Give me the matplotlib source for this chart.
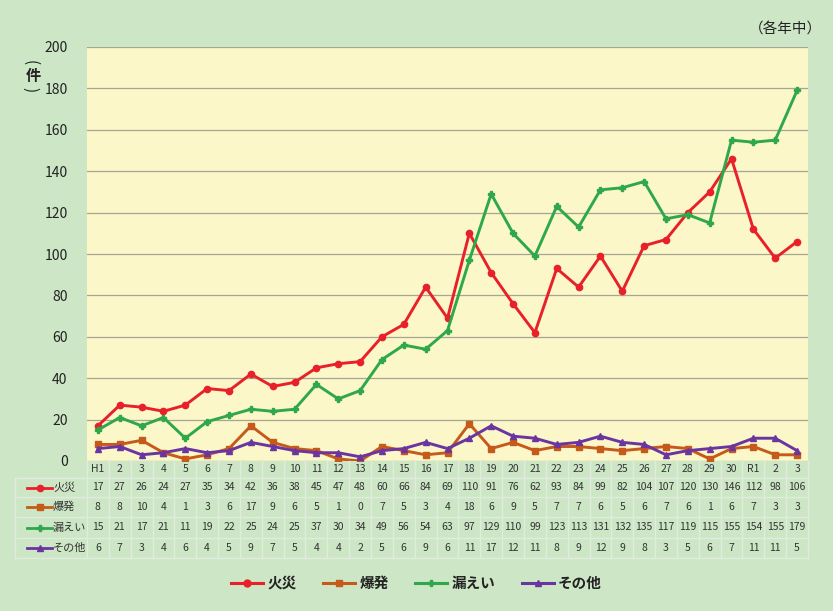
import matplotlib
matplotlib.use("Agg")
import matplotlib.pyplot as plt
import matplotlib.transforms as mtransforms
from matplotlib.lines import Line2D

plt.rcParams['font.family'] = ['Noto Sans CJK JP', 'DejaVu Sans']

categories = ["H1", "2", "3", "4", "5", "6", "7", "8", "9", "10", "11", "12", "13", "14", "15",
              "16", "17", "18", "19", "20", "21", "22", "23", "24", "25", "26", "27", "28", "29", "30",
              "R1", "2", "3"]
fire = [17, 27, 26, 24, 27, 35, 34, 42, 36, 38, 45, 47, 48, 60, 66,
        84, 69, 110, 91, 76, 62, 93, 84, 99, 82, 104, 107, 120, 130, 146, 112, 98, 106]
explosion = [8, 8, 10, 4, 1, 3, 6, 17, 9, 6, 5, 1, 0, 7, 5,
             3, 4, 18, 6, 9, 5, 7, 7, 6, 5, 6, 7, 6, 1, 6, 7, 3, 3]
leak = [15, 21, 17, 21, 11, 19, 22, 25, 24, 25, 37, 30, 34, 49, 56,
        54, 63, 97, 129, 110, 99, 123, 113, 131, 132, 135, 117, 119, 115, 155, 154, 155, 179]
other = [6, 7, 3, 4, 6, 4, 5, 9, 7, 5, 4, 4, 2, 5, 6,
         9, 6, 11, 17, 12, 11, 8, 9, 12, 9, 8, 3, 5, 6, 7, 11, 11, 5]

series_names = ["火災", "爆発", "漏えい", "その他"]
series_vals = [fire, explosion, leak, other]
colors = ["#e8202a", "#c55a1a", "#2ea84a", "#6a35a0"]
markers = ["o", "s", "P", "^"]

bg = "#cde6c6"
fig = plt.figure(figsize=(8.33, 6.11), dpi=100, facecolor=bg)
ax = fig.add_axes([87/833, 1-461/611, (808-87)/833, (461-47)/611])
ax.set_facecolor("#fbf7c8")

x = list(range(len(categories)))
for name, vals, c, m in zip(series_names, series_vals, colors, markers):
    ax.plot(x, vals, color=c, lw=2.1, marker=m, markersize=4.5, label=name, zorder=3)

ax.set_xlim(-0.5, len(categories) - 0.5)
ax.set_ylim(0, 200)
ax.set_yticks(range(0, 201, 20))
ax.tick_params(axis='y', length=0, labelsize=10, colors="#222222", pad=14)
ax.set_xticks([])
ax.grid(axis='y', color="#a8a692", lw=0.9)
ax.set_axisbelow(True)
for s in ax.spines.values():
    s.set_visible(False)

# Axis unit label (vertical)
fig.text(30/833, 1-63/611, "(", ha='center', va='center', fontsize=11, color="#222222",
         rotation=-90)
fig.text(33/833, 1-76/611, "件", ha='center', va='center', fontsize=11,
         color="#222222", fontweight='bold')
fig.text(30/833, 1-90/611, ")", ha='center', va='center', fontsize=11, color="#222222",
         rotation=-90)
fig.text(785/833, 1-30/611, "（各年中）", ha='center', va='center', fontsize=10.5, color="#222222")

# Data table
trans = mtransforms.blended_transform_factory(ax.transData, fig.transFigure)
row_bounds = [461, 478, 497, 517, 538, 558]
row_centers = [(row_bounds[i] + row_bounds[i+1]) / 2 for i in range(5)]
line_col = "#e2ecde"
for yb in row_bounds[1:]:
    fig.add_artist(Line2D([15/833, 808/833], [1-yb/611]*2, color=line_col, lw=1))
for i in range(len(categories) + 1):
    xv = i - 0.5
    fig.add_artist(Line2D([xv, xv], [1-461/611, 1-558/611], color=line_col, lw=1, transform=trans))
fig.add_artist(Line2D([15/833, 15/833], [1-478/611, 1-558/611], color=line_col, lw=1))

for i, cat in enumerate(categories):
    fig.text(i, 1-row_centers[0]/611, cat, transform=trans, ha='center', va='center',
             fontsize=7.5, color="#333333")
for r, (name, vals, c, m) in enumerate(zip(series_names, series_vals, colors, markers)):
    yc = 1 - row_centers[r+1]/611
    for i, v in enumerate(vals):
        fig.text(i, yc, str(v), transform=trans, ha='center', va='center',
                 fontsize=7.5, color="#333333")
    fig.add_artist(Line2D([27/833, 52/833], [yc, yc], color=c, lw=2))
    fig.add_artist(Line2D([39.5/833], [yc], color=c, marker=m, markersize=4.5))
    fig.text(53/833, yc, name, ha='left', va='center', fontsize=8, color="#333333")

# Legend
handles = [Line2D([0], [0], color=c, lw=2.2, marker=m, markersize=5)
           for c, m in zip(colors, markers)]
leg = fig.legend(handles, series_names, loc='center', bbox_to_anchor=(0.5, 1-583/611),
                 ncol=4, frameon=False, fontsize=10.5, handlelength=2.2, handletextpad=0.3,
                 columnspacing=1.8)
for t in leg.get_texts():
    t.set_fontweight('bold')
    t.set_color("#222222")

fig.savefig("out.png", dpi=100, facecolor=bg)
